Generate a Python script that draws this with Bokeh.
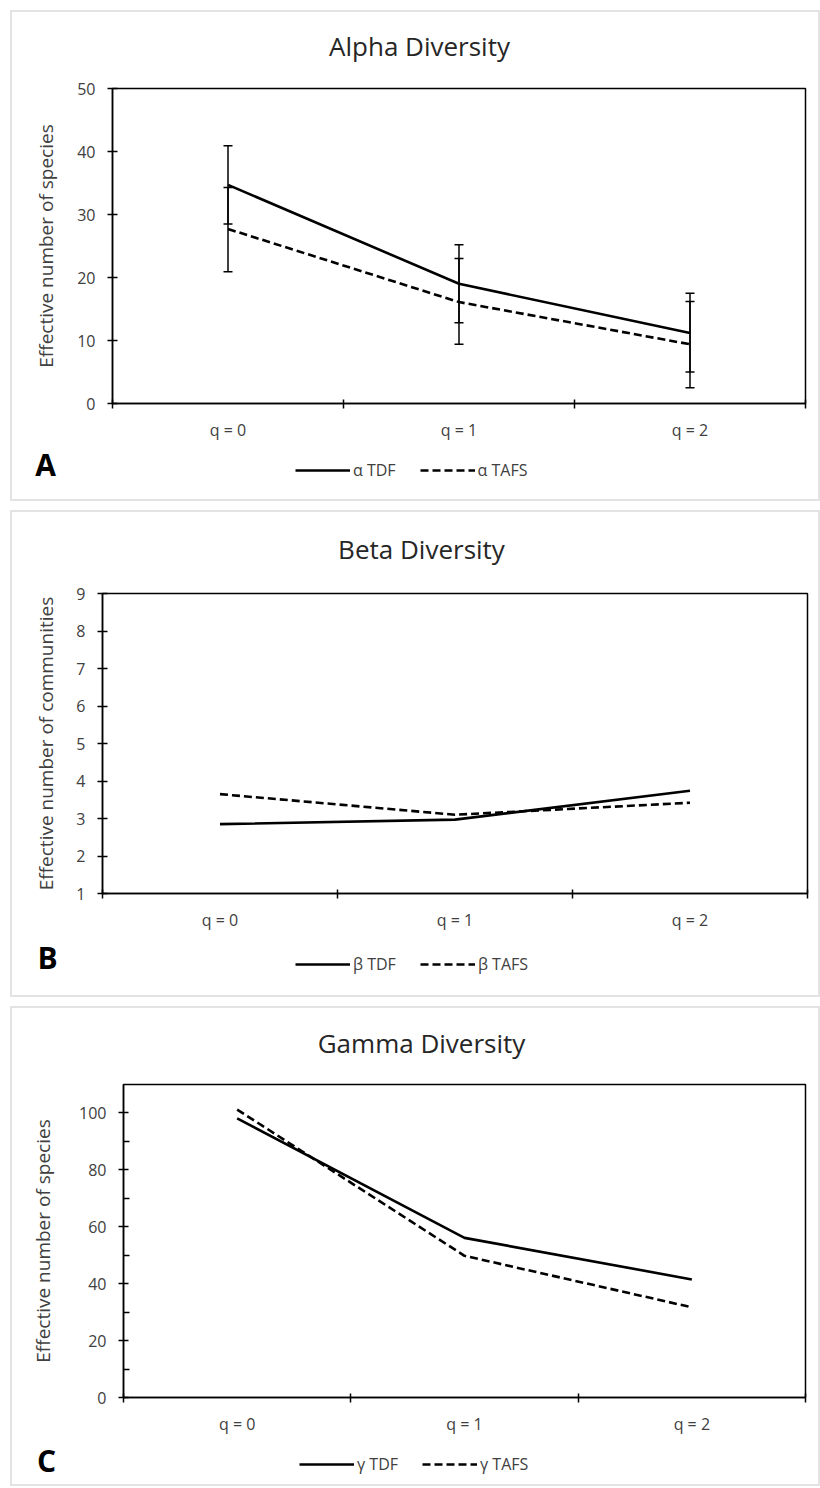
from bokeh.plotting import figure
from bokeh.models import (ColumnDataSource, Whisker, Legend, LegendItem,
                          FixedTicker, Range1d, TeeHead, Label)
from bokeh.layouts import column
from bokeh.embed import file_html
from bokeh.resources import INLINE

# ---------------- data ----------------
categories = ["q = 0", "q = 1", "q = 2"]

alpha_tdf = [34.7, 19.0, 11.2]
alpha_tdf_lower = [28.5, 12.8, 5.0]
alpha_tdf_upper = [40.9, 25.2, 17.5]
alpha_tafs = [27.7, 16.1, 9.4]
alpha_tafs_lower = [20.9, 9.4, 2.5]
alpha_tafs_upper = [34.3, 23.0, 16.2]

beta_tdf = [2.85, 2.97, 3.74]
beta_tafs = [3.65, 3.10, 3.42]

gamma_tdf = [98.1, 56.1, 41.5]
gamma_tafs = [101.2, 49.8, 31.7]

alpha_yticks = [0, 10, 20, 30, 40, 50]
beta_yticks = [1, 2, 3, 4, 5, 6, 7, 8, 9]
gamma_yticks = [0, 20, 40, 60, 80, 100]
gamma_yminor = [10, 30, 50, 70, 90]

FONT = "Open Sans"
TXT = "#404040"
W = 806
XS = [i + 0.5 for i in range(len(categories))]


def blank_figure(height):
    q = figure(width=W, height=height, x_range=Range1d(0, 1),
               y_range=Range1d(-1, 0), output_backend="svg",
               toolbar_location=None, x_axis_location=None,
               y_axis_location=None, min_border=0)
    q.title = None
    q.grid.visible = False
    q.outline_line_color = None
    return q


def title_figure(text, height, pos):
    q = blank_figure(height)
    q.add_layout(Label(x=pos[0], y=pos[1], x_units="screen", y_units="screen",
                       text=text, text_font=FONT, text_font_size="26px",
                       text_color="#262626", text_align="center",
                       text_baseline="middle"))
    return q


def main_figure(ylabel, tdf, tafs, yticks, yminor, ylim, height, borders,
                label_standoff, errors=None):
    n = len(categories)
    left, right, top, bottom = borders
    p = figure(width=W, height=height, x_range=Range1d(0, n),
               y_range=Range1d(*ylim), output_backend="svg",
               toolbar_location=None, min_border_left=left,
               min_border_right=right, min_border_top=top,
               min_border_bottom=bottom)
    p.title = None
    p.grid.visible = False
    p.outline_line_color = "black"
    p.outline_line_width = 1.5

    # x axis: labels at category centres, tick marks at category boundaries
    xa = p.xaxis[0]
    xa.ticker = FixedTicker(ticks=XS, minor_ticks=list(range(n + 1)))
    xa.major_label_overrides = {x: c for x, c in zip(XS, categories)}
    xa.major_tick_in = 0
    xa.major_tick_out = 0
    xa.minor_tick_in = 4
    xa.minor_tick_out = 5
    xa.minor_tick_line_color = "black"
    xa.minor_tick_line_width = 1.5
    xa.axis_line_color = "black"
    xa.axis_line_width = 1.5
    xa.major_label_text_font = FONT
    xa.major_label_text_font_size = "16px"
    xa.major_label_text_color = TXT
    xa.major_label_standoff = 10

    ya = p.yaxis[0]
    ya.ticker = FixedTicker(ticks=yticks, minor_ticks=yminor)
    ya.major_tick_in = 5
    ya.major_tick_out = 5
    ya.major_tick_line_color = "black"
    ya.major_tick_line_width = 1.5
    ya.minor_tick_in = 6 if yminor else 0
    ya.minor_tick_out = 0
    ya.minor_tick_line_color = "black"
    ya.minor_tick_line_width = 1.5
    ya.axis_line_color = "black"
    ya.axis_line_width = 1.5
    ya.major_label_text_font = FONT
    ya.major_label_text_font_size = "16px"
    ya.major_label_text_color = TXT
    ya.major_label_standoff = 12
    ya.axis_label = ylabel
    ya.axis_label_text_font = FONT
    ya.axis_label_text_font_size = "19px"
    ya.axis_label_text_font_style = "normal"
    ya.axis_label_text_color = TXT
    ya.axis_label_standoff = label_standoff

    src = ColumnDataSource(dict(x=XS, tdf=tdf, tafs=tafs))
    p.line("x", "tdf", source=src, line_color="black", line_width=2.6)
    p.line("x", "tafs", source=src, line_color="black", line_width=2.6,
           line_dash="8 4")

    if errors is not None:
        for lo, up in errors:
            es = ColumnDataSource(dict(x=XS, lower=lo, upper=up))
            w = Whisker(base="x", lower="lower", upper="upper", source=es,
                        line_color="black", line_width=1.5,
                        upper_head=TeeHead(size=9, line_width=1.5, line_color="black"),
                        lower_head=TeeHead(size=9, line_width=1.5, line_color="black"))
            p.add_layout(w)
    return p


def legend_figure(letter, names, tdf, tafs, height, letter_pos, legend_pos):
    q = blank_figure(height)
    # legend keys: the same series, lying outside this strip's visible range
    src = ColumnDataSource(dict(x=XS, tdf=tdf, tafs=tafs))
    k1 = q.line("x", "tdf", source=src, line_color="black", line_width=2.6)
    k2 = q.line("x", "tafs", source=src, line_color="black", line_width=2.6,
                line_dash="8 4")
    legend = Legend(items=[LegendItem(label=names[0], renderers=[k1]),
                           LegendItem(label=names[1], renderers=[k2])],
                    orientation="horizontal", location=legend_pos,
                    glyph_width=55, glyph_height=22, label_standoff=3,
                    spacing=24, padding=0, margin=0,
                    border_line_alpha=0, background_fill_alpha=0,
                    label_text_font=FONT, label_text_font_size="16px",
                    label_text_color=TXT)
    q.add_layout(legend)
    q.add_layout(Label(x=letter_pos[0], y=letter_pos[1], x_units="screen",
                       y_units="screen", text=letter, text_font=FONT,
                       text_font_size="30px", text_font_style="bold",
                       text_color="black", text_align="center",
                       text_baseline="middle"))
    return q


def panel(*figs):
    return column(*[column(f) for f in figs], spacing=0,
                  styles={"border": "2px solid #e3e3e3"})


ta = title_figure("Alpha Diversity", 60, (407, 27))
ma = main_figure("Effective number of species", alpha_tdf, alpha_tafs,
                 alpha_yticks, [], (0, 50), 371, (100, 13, 16, 40), 15,
                 errors=[(alpha_tdf_lower, alpha_tdf_upper),
                         (alpha_tafs_lower, alpha_tafs_upper)])
la = legend_figure("A", ["α TDF", "α TAFS"], alpha_tdf, alpha_tafs, 56,
                   (33, 35), (283, 18))

tb = title_figure("Beta Diversity", 60, (409, 24))
mb = main_figure("Effective number of communities", beta_tdf, beta_tafs,
                 beta_yticks, [], (1, 9), 361, (90, 11, 21, 40), 14)
lb = legend_figure("B", ["β TDF", "β TAFS"], beta_tdf, beta_tafs, 62,
                   (35, 38), (283, 20))

tc = title_figure("Gamma Diversity", 60, (409, 26))
mc = main_figure("Effective number of species", gamma_tdf, gamma_tafs,
                 gamma_yticks, gamma_yminor, (0, 110), 369, (111, 13, 16, 40), 20)
lc = legend_figure("C", ["γ TDF", "γ TAFS"], gamma_tdf, gamma_tafs, 47,
                   (34, 24), (287, 9))

layout = column(panel(ta, ma, la), panel(tb, mb, lb), panel(tc, mc, lc),
                spacing=9, margin=(10, 0, 0, 10))
open("out.html", "w").write(file_html(layout, INLINE))
